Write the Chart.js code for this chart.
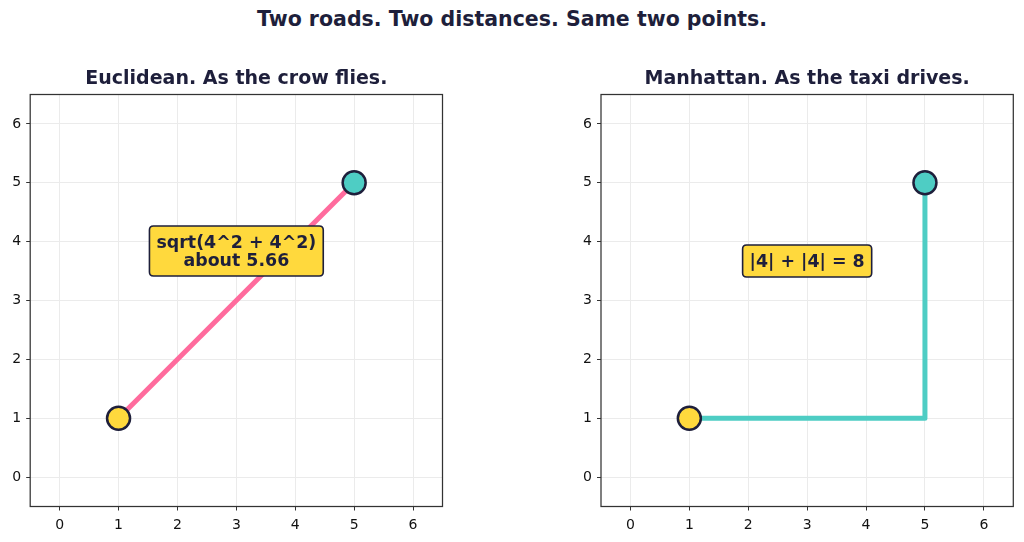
<!DOCTYPE html>
<html lang="en">
<head>
    <meta charset="UTF-8">
    <title>Two roads. Two distances.</title>
    <script src="https://cdn.jsdelivr.net/npm/chart.js"></script>
    <style>
        body { margin: 0; background: #ffffff; width: 1024px; height: 542px; overflow: hidden; position: relative; }
        .main-title {
            position: absolute; left: 0; top: 7px; width: 1024px; text-align: center;
            font: bold 20.5px "DejaVu Sans", sans-serif; line-height: 24px; color: #1e1f3b;
        }
        canvas { position: absolute; top: 0; }
    </style>
</head>
<body>
    <div class="main-title">Two roads. Two distances. Same two points.</div>
    <canvas id="euclidChart" width="512" height="542" style="left:0"></canvas>
    <canvas id="taxiChart" width="512" height="542" style="left:512px"></canvas>

    <script>
        // data
        const axisRange = [-0.5, 6.5];
        const tickValues = [0, 1, 2, 3, 4, 5, 6];
        const startPoint = [1, 1];
        const endPoint = [5, 5];
        const euclidPathX = [1, 5];
        const euclidPathY = [1, 5];
        const taxiPathX = [1, 5, 5];
        const taxiPathY = [1, 1, 5];
        const euclidNote = ['sqrt(4^2 + 4^2)', 'about 5.66'];
        const euclidNoteAt = [3, 3.84];
        const taxiNote = ['|4| + |4| = 8'];
        const taxiNoteAt = [3, 3.67];

        const NAVY = '#1e1f3b';
        const PINK = '#ff6b9d';
        const TEAL = '#4ecdc4';
        const YELLOW = '#ffd93d';

        function toPoints(xs, ys) {
            return xs.map((x, i) => ({ x: x, y: ys[i] }));
        }

        // frame around the plot area, like matplotlib spines
        const framePlugin = {
            id: 'frame',
            beforeDatasetsDraw(chart) {
                const a = chart.chartArea, ctx = chart.ctx;
                ctx.save();
                ctx.strokeStyle = '#333333';
                ctx.lineWidth = 1.25;
                ctx.strokeRect(a.left, a.top, a.right - a.left, a.bottom - a.top);
                ctx.restore();
            }
        };

        // yellow text box
        const notePlugin = {
            id: 'note',
            afterDatasetsDraw(chart, args, opts) {
                const ctx = chart.ctx;
                const cx = chart.scales.x.getPixelForValue(opts.at[0]);
                const cy = chart.scales.y.getPixelForValue(opts.at[1]);
                const lineH = 18, pad = 7, r = 4;
                ctx.save();
                ctx.font = 'bold 17.4px "DejaVu Sans"';
                let w = 0;
                opts.lines.forEach(l => { w = Math.max(w, ctx.measureText(l).width); });
                const bw = w + pad * 2, bh = opts.lines.length * lineH + pad * 2;
                const x0 = cx - bw / 2, y0 = cy - bh / 2;
                ctx.beginPath();
                ctx.moveTo(x0 + r, y0);
                ctx.lineTo(x0 + bw - r, y0);
                ctx.quadraticCurveTo(x0 + bw, y0, x0 + bw, y0 + r);
                ctx.lineTo(x0 + bw, y0 + bh - r);
                ctx.quadraticCurveTo(x0 + bw, y0 + bh, x0 + bw - r, y0 + bh);
                ctx.lineTo(x0 + r, y0 + bh);
                ctx.quadraticCurveTo(x0, y0 + bh, x0, y0 + bh - r);
                ctx.lineTo(x0, y0 + r);
                ctx.quadraticCurveTo(x0, y0, x0 + r, y0);
                ctx.closePath();
                ctx.fillStyle = YELLOW;
                ctx.fill();
                ctx.strokeStyle = NAVY;
                ctx.lineWidth = 1.6;
                ctx.stroke();
                ctx.fillStyle = NAVY;
                ctx.textAlign = 'center';
                ctx.textBaseline = 'middle';
                opts.lines.forEach((l, i) => {
                    ctx.fillText(l, cx, y0 + pad + lineH * i + lineH / 2 + 1);
                });
                ctx.restore();
            }
        };

        function axis(fitKey, fitVal, pad) {
            return {
                type: 'linear',
                min: axisRange[0],
                max: axisRange[1],
                afterBuildTicks: scale => { scale.ticks = tickValues.map(v => ({ value: v })); },
                afterFit: scale => {
                    scale[fitKey] = fitVal;
                    scale.paddingLeft = 0; scale.paddingRight = 0;
                    scale.paddingTop = 0; scale.paddingBottom = 0;
                },
                border: { display: false },
                grid: { color: '#ebebeb', lineWidth: 1, drawTicks: true, tickLength: 4, tickColor: '#333333', tickWidth: 1 },
                ticks: { color: '#111111', font: { family: 'DejaVu Sans', size: 14 }, padding: pad, autoSkip: false, maxRotation: 0 }
            };
        }

        function makeChart(id, title, pathX, pathY, lineColor, note, noteAt, leftPad, rightPad) {
            new Chart(document.getElementById(id), {
                type: 'scatter',
                data: {
                    datasets: [
                        {
                            data: toPoints([startPoint[0]], [startPoint[1]]),
                            pointRadius: 11.5, pointBackgroundColor: YELLOW,
                            pointBorderColor: NAVY, pointBorderWidth: 2.5, order: 1
                        },
                        {
                            data: toPoints([endPoint[0]], [endPoint[1]]),
                            pointRadius: 11.5, pointBackgroundColor: TEAL,
                            pointBorderColor: NAVY, pointBorderWidth: 2.5, order: 1
                        },
                        {
                            data: toPoints(pathX, pathY),
                            showLine: true, borderColor: lineColor, borderWidth: 5,
                            borderJoinStyle: 'round', pointRadius: 0, order: 3
                        }
                    ]
                },
                options: {
                    responsive: false,
                    animation: false,
                    devicePixelRatio: 1,
                    layout: { autoPadding: false, padding: { left: leftPad, right: rightPad, top: 0, bottom: 0 } },
                    scales: {
                        x: axis('height', 35.5, 6),
                        y: axis('width', 30, 5)
                    },
                    plugins: {
                        legend: { display: false },
                        tooltip: { enabled: false },
                        title: {
                            display: true, text: title, color: NAVY, fullSize: false,
                            font: { family: 'DejaVu Sans', size: 19, weight: 'bold', lineHeight: 1.2 },
                            padding: { top: 67.6, bottom: 4.1 }
                        },
                        note: { lines: note, at: noteAt }
                    }
                },
                plugins: [framePlugin, notePlugin]
            });
        }

        makeChart('euclidChart', 'Euclidean. As the crow flies.', euclidPathX, euclidPathY, PINK, euclidNote, euclidNoteAt, 0.2, 69.5);
        makeChart('taxiChart', 'Manhattan. As the taxi drives.', taxiPathX, taxiPathY, TEAL, taxiNote, taxiNoteAt, 59, 10.7);
    </script>
</body>
</html>
